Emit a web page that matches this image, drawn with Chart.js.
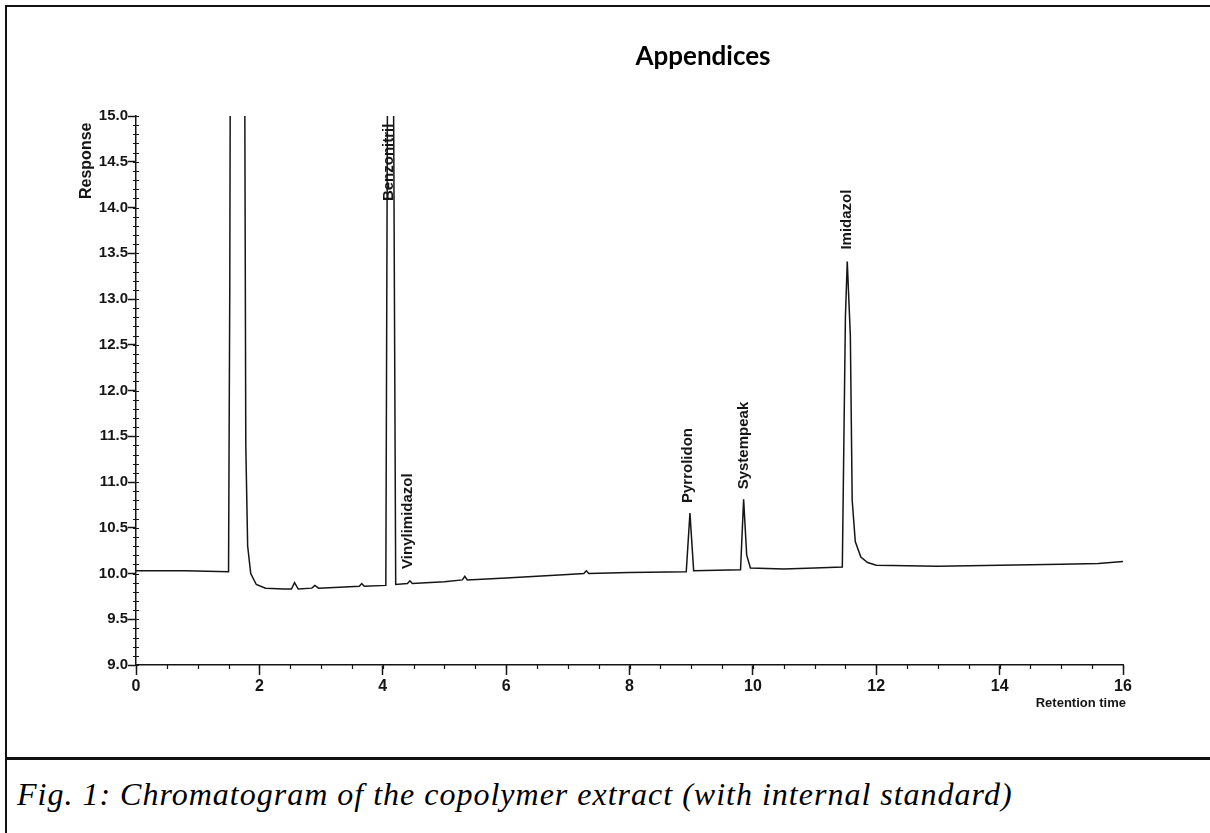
<!DOCTYPE html>
<html>
<head>
<meta charset="utf-8">
<title>Chromatogram</title>
<script src="https://cdn.jsdelivr.net/npm/chart.js@4.4.1/dist/chart.umd.min.js"></script>
<style>
  html, body { margin: 0; padding: 0; background: #fff; }
  body { width: 1210px; height: 833px; position: relative; overflow: hidden; }
  #frame { position: absolute; left: 5px; top: 5px; width: 1205px; height: 828px;
           border-left: 2px solid #111; border-top: 2px solid #111; box-sizing: border-box; }
  #rule { position: absolute; left: 5px; top: 757px; width: 1205px; height: 0; border-top: 3px solid #111; }
  #heading { position: absolute; left: 0; top: 39px; width: 1406px; text-align: center;
             font: bold 26px Lato, "Open Sans", sans-serif; color: #000; }
  #caption { position: absolute; left: 17px; top: 776px; white-space: nowrap; letter-spacing: 1px;
             font: italic 32px "Liberation Serif", serif; color: #000; }
  canvas { position: absolute; left: 0; top: 0; }
</style>
</head>
<body>
<div id="frame"></div>
<div id="rule"></div>
<canvas id="chroma" width="1210" height="757"></canvas>
<div id="heading">Appendices</div>
<div id="caption">Fig. 1: Chromatogram of the copolymer extract (with internal standard)</div>
<script>
// signal (retention time in min, detector response)
const retentionTime = [0, 0.8, 1.50, 1.52, 1.53, 1.76, 1.78, 1.81, 1.86, 1.95,
  2.10, 2.40, 2.52, 2.57, 2.63, 2.85, 2.90, 2.96, 3.30, 3.62,
  3.66, 3.70, 4.05, 4.08, 4.17, 4.21, 4.40, 4.44, 4.48, 5.00,
  5.29, 5.33, 5.37, 6.00, 7.00, 7.26, 7.30, 7.34, 8.00, 8.92,
  8.98, 9.04, 9.80, 9.85, 9.90, 9.96, 10.50, 11.00, 11.45, 11.50,
  11.53, 11.58, 11.61, 11.66, 11.75, 11.86, 12.00, 13.00, 14.00, 15.00,
  15.60, 16.00];
const response = [10.03, 10.03, 10.02, 13.10, 16, 16, 11.40, 10.30, 10.00, 9.88,
  9.84, 9.83, 9.83, 9.90, 9.83, 9.84, 9.87, 9.84, 9.85, 9.86,
  9.89, 9.86, 9.87, 16, 16, 9.88, 9.89, 9.92, 9.89, 9.91,
  9.93, 9.97, 9.93, 9.95, 9.99, 10.00, 10.03, 10.00, 10.01, 10.02,
  10.66, 10.03, 10.04, 10.81, 10.20, 10.06, 10.05, 10.06, 10.07, 12.80,
  13.41, 12.60, 10.80, 10.35, 10.18, 10.12, 10.09, 10.08, 10.09, 10.10,
  10.11, 10.13];

// peak annotations: name, retention time, response where the label starts
const peakNames = ['Benzonitril', 'Vinylimidazol', 'Pyrrolidon', 'Systempeak', 'Imidazol'];
const peakTimes = [4.10, 4.41, 8.95, 9.85, 11.52];
const peakLabelFrom = [14.07, 10.05, 10.77, 10.92, 13.54];

// axis ranges / ticks
const xMin = 0, xMax = 16, xStep = 2, xMinor = 0.5;
const yMin = 9, yMax = 15, yStep = 0.5, yMinor = 0.1;

const ink = '#151515';
const sans = '"Liberation Sans", Arial, sans-serif';

const extras = {
  id: 'extras',
  afterDraw(chart) {
    const {ctx, chartArea, scales: {x, y}} = chart;
    ctx.save();
    ctx.strokeStyle = ink;
    ctx.lineWidth = 1.2;

    // minor ticks on both axes
    ctx.beginPath();
    for (let v = yMin; v <= yMax + 1e-9; v += yMinor) {
      const py = Math.round(y.getPixelForValue(v)) + 0.5;
      ctx.moveTo(chartArea.left - 3, py);
      ctx.lineTo(chartArea.left + 3, py);
    }
    for (let v = xMin; v <= xMax + 1e-9; v += xMinor) {
      const px = Math.round(x.getPixelForValue(v)) + 0.5;
      ctx.moveTo(px, chartArea.bottom);
      ctx.lineTo(px, chartArea.bottom + 4);
    }
    ctx.stroke();

    // peak names, written upwards
    ctx.fillStyle = ink;
    ctx.font = 'bold 15px ' + sans;
    ctx.textAlign = 'left';
    ctx.textBaseline = 'middle';
    peakNames.forEach((name, i) => {
      ctx.save();
      ctx.translate(x.getPixelForValue(peakTimes[i]), y.getPixelForValue(peakLabelFrom[i]));
      ctx.rotate(-Math.PI / 2);
      ctx.fillText(name, 0, 0);
      ctx.restore();
    });

    // axis titles
    ctx.font = 'bold 16px ' + sans;
    ctx.save();
    ctx.translate(chartArea.left - 49, chartArea.top + 83);
    ctx.rotate(-Math.PI / 2);
    ctx.fillText('Response', 0, 0);
    ctx.restore();

    ctx.font = 'bold 13px ' + sans;
    ctx.textAlign = 'right';
    ctx.fillText('Retention time', chartArea.right + 3, chartArea.bottom + 38);
    ctx.restore();
  }
};

new Chart(document.getElementById('chroma'), {
  type: 'line',
  data: {
    datasets: [{
      data: retentionTime.map((t, i) => ({x: t, y: response[i]})),
      borderColor: ink,
      borderWidth: 1.5,
      pointRadius: 0,
      tension: 0,
      fill: false
    }]
  },
  options: {
    responsive: false,
    animation: false,
    devicePixelRatio: 1,
    layout: {padding: {top: 116, right: 87, left: 0, bottom: 0}},
    plugins: {legend: {display: false}, tooltip: {enabled: false}},
    scales: {
      x: {
        type: 'linear', min: xMin, max: xMax,
        afterFit(scale) { scale.height = 92; },
        border: {color: ink, width: 1.5},
        grid: {drawOnChartArea: false, tickLength: 10, tickColor: ink, tickWidth: 1.5},
        ticks: {stepSize: xStep, color: ink, padding: 2, maxRotation: 0,
                font: {family: sans, size: 16, weight: 'bold'}}
      },
      y: {
        min: yMin, max: yMax,
        afterFit(scale) { scale.width = 136; },
        border: {color: ink, width: 1.5},
        grid: {drawOnChartArea: false, tickLength: 8, tickColor: ink, tickWidth: 1.5},
        ticks: {stepSize: yStep, color: ink, padding: 0,
                font: {family: sans, size: 15, weight: 'bold'},
                callback: v => v.toFixed(1)}
      }
    }
  },
  plugins: [extras]
});
</script>
</body>
</html>
